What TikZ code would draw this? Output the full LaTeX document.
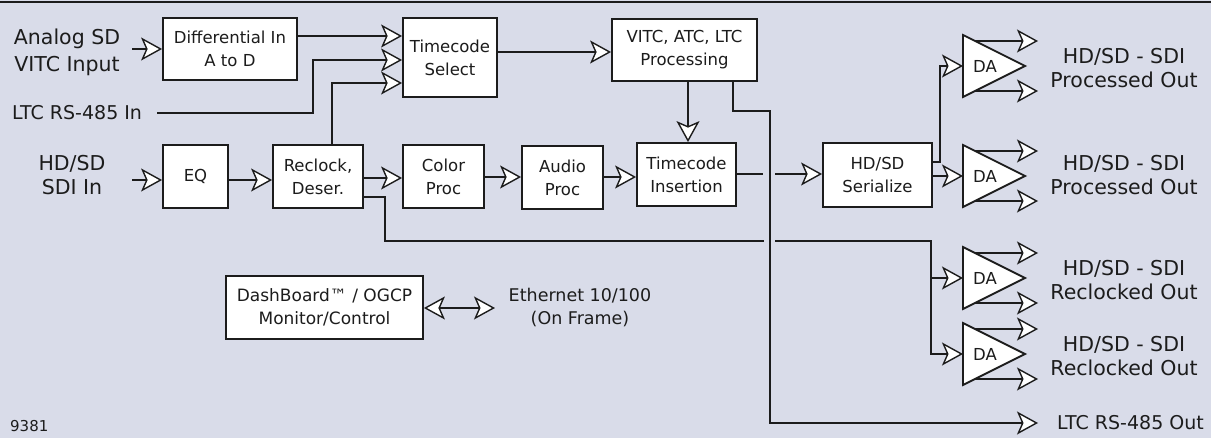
\documentclass[tikz,border=0pt]{standalone}
\usepackage{fontspec}
\setmainfont{DejaVu Sans}
\usetikzlibrary{arrows.meta,calc}
\definecolor{bgc}{HTML}{D9DCE9}
\definecolor{ink}{HTML}{1C1C1C}
\tikzset{
  myhead/.tip={Stealth[length=21pt,width=23pt,inset=5pt,fill=white,line width=1.4pt]},
  box/.style={draw=ink, fill=white, line width=1.8pt, inner sep=0pt, align=center,
              font=\fontsize{16.5}{23}\selectfont, text=ink},
  lbl/.style={inner sep=0pt, align=center, text=ink},
  con/.style={draw=ink, line width=1.5pt},
  arr/.style={con, -myhead},
  dbl/.style={con, myhead-myhead},
  dabox/.style={draw=ink, fill=white, line width=1.8pt, line join=miter},
}
\begin{document}
\begin{tikzpicture}[x=1pt,y=-1pt]
\fill[bgc] (0,0) rectangle (1211,438);
\useasboundingbox (0,0) rectangle (1211,438);
\draw[ink, line width=2.5pt] (0,2) -- (1211,2);

% boxes
\node[box, minimum width=134pt, minimum height=62pt] (diff) at (230,49) {Differential In\\A to D};
\node[box, minimum width=94pt, minimum height=79pt] (tcs) at (450,57.5) {Timecode\\Select};
\node[box, minimum width=145pt, minimum height=62pt] (vitc) at (684.5,50) {VITC, ATC, LTC\\Processing};
\node[box, minimum width=65pt, minimum height=63pt] (eq) at (195.5,176.5) {EQ};
\node[box, minimum width=90pt, minimum height=63pt] (rec) at (318,176.5) {Reclock,\\Deser.};
\node[box, minimum width=81pt, minimum height=63pt] (col) at (443.5,176.5) {Color\\Proc};
\node[box, minimum width=81pt, minimum height=63pt] (aud) at (562.5,177.5) {Audio\\Proc};
\node[box, minimum width=99pt, minimum height=63pt] (tci) at (686.5,174.5) {Timecode\\Insertion};
\node[box, minimum width=109pt, minimum height=64pt] (ser) at (877.5,175) {HD/SD\\Serialize};
\node[box, minimum width=197pt, minimum height=63pt, font=\fontsize{17}{23}\selectfont] (dash) at (324.5,307.5) {DashBoard™ / OGCP\\Monitor/Control};

% labels
\node[lbl, font=\fontsize{20.5}{27}\selectfont] (analog) at (67,52) {Analog SD\\VITC Input};
\node[lbl, font=\fontsize{20.5}{24}\selectfont] (hdin) at (72,175) {HD/SD\\SDI In};
\node[lbl, font=\fontsize{19}{21}\selectfont, anchor=west] (ltcin) at (12,113) {LTC RS-485 In};
\node[lbl, font=\fontsize{19}{21}\selectfont, anchor=west] (ltcout) at (1057,423) {LTC RS-485 Out};
\node[lbl, font=\fontsize{17.5}{23}\selectfont] (eth) at (580,307.5) {Ethernet 10/100\\(On Frame)};
\node[lbl, font=\fontsize{15}{17}\selectfont, anchor=west] (num) at (10,426) {9381};

% DAs
\foreach \n/\y in {1/66,2/176,3/278,4/354} {
  \draw[dabox] (963,\y-31) -- (1025,\y) -- (963,\y+31) -- cycle;
  \node[lbl, font=\fontsize{16.5}{19}\selectfont] (da\n) at (985,\y) {DA};
  \coordinate (da\n in) at (963,\y);
  \coordinate (da\n a) at (975,\y-25);
  \coordinate (da\n b) at (975,\y+25);
  \draw[arr] (da\n a) -- ++(63,0);
  \draw[arr] (da\n b) -- ++(63,0);
}
\node[lbl, font=\fontsize{20.5}{24}\selectfont] (o1) at (1124,68.5) {HD/SD - SDI\\Processed Out};
\node[lbl, font=\fontsize{20.5}{24}\selectfont] (o2) at (1124,175) {HD/SD - SDI\\Processed Out};
\node[lbl, font=\fontsize{20.5}{24}\selectfont] (o3) at (1124,280) {HD/SD - SDI\\Reclocked Out};
\node[lbl, font=\fontsize{20.5}{24}\selectfont] (o4) at (1124,356) {HD/SD - SDI\\Reclocked Out};

% coordinates for free ends
\coordinate (ain) at (132,49);
\coordinate (hin) at (132,180);
\coordinate (ltcs) at (157,113);
\coordinate (ltctip) at (1038,423);
\coordinate (ethtip) at (495,308);

% connectors
\draw[arr] (ain) -- (diff.west |- ain);
\draw[arr] (hin) -- (eq.west |- hin);
\draw[arr] (diff.east |- 0,36) -- (tcs.west |- 0,36);
\draw[arr] (ltcs) -- (313,113) -- (313,60) -- (tcs.west |- 0,60);
\draw[arr] (rec.north -| 332,0) -- (332,83) -- (tcs.west |- 0,83);
\draw[arr] (tcs.east |- 0,52) -- (vitc.west |- 0,52);
\draw[arr] (vitc.south -| 688,0) -- (tci.north -| 688,0);
\draw[arr] (vitc.south -| 733,0) -- (733,111) -- (770,111) -- (770,423) -- (ltctip);
\draw[arr] (eq.east |- 0,180) -- (rec.west |- 0,180);
\draw[arr] (rec.east |- 0,178) -- (col.west |- 0,178);
\draw[arr] (col.east |- 0,177) -- (aud.west |- 0,177);
\draw[arr] (aud.east |- 0,177) -- (tci.west |- 0,177);
\draw[con] (tci.east |- 0,174) -- (763,174);
\draw[arr] (775,174) -- (ser.west |- 0,174);
\draw[con] (rec.east |- 0,197) -- (385,197) -- (385,241) -- (764,241);
\draw[arr] (775,241) -- (931,241) -- (931,354) -- (da4in);
\draw[arr] (931,278) -- (da3in);
\draw[arr] (ser.east |- 0,162) -- (940,162) -- (940,66) -- (da1in);
\draw[arr] (ser.east |- 0,176) -- (da2in);
\draw[dbl] (dash.east |- ethtip) -- (ethtip);
\end{tikzpicture}
\end{document}
